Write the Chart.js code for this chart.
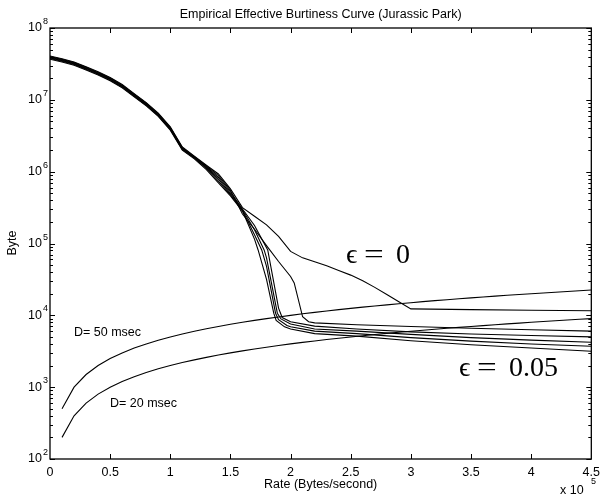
<!DOCTYPE html>
<html>
<head>
<meta charset="utf-8">
<script src="https://cdn.jsdelivr.net/npm/chart.js@4.4.1/dist/chart.umd.min.js"></script>
<style>
html,body{margin:0;padding:0;background:#fff;}
#wrap{width:606px;height:501px;position:relative;}
</style>
</head>
<body>
<div id="wrap"><canvas id="c" width="606" height="501"></canvas></div>
<script>
// ---- data (rate in units of 1e5 bytes/second, burstiness in bytes) ----
const xTickLabels = ['0','0.5','1','1.5','2','2.5','3','3.5','4','4.5'];
const yDecadeExponents = [2,3,4,5,6,7,8];

// head of the six epsilon curves (nearly overlapping)
const headRate = [0,0.1,0.2,0.3,0.4,0.5,0.6,0.7,0.8,0.9,1.0,1.1];
const eps0Head   = [40800000,37350000,33660000,28930000,24620000,20510000,16310000,12200000,9150000,6520000,4210000,2210000];
const eps001Head = [39960000,36570000,32960000,28330000,24100000,20090000,15970000,11950000,8960000,6390000,4120000,2160000];
const eps002Head = [39150000,35820000,32290000,27750000,23610000,19680000,15640000,11700000,8780000,6260000,4040000,2120000];
const eps003Head = [38370000,35110000,31650000,27200000,23140000,19290000,15330000,11470000,8600000,6130000,3960000,2080000];
const eps004Head = [37560000,34360000,30980000,26620000,22650000,18880000,15000000,11230000,8420000,6000000,3870000,2030000];
const eps005Head = [36780000,33650000,30340000,26070000,22180000,18490000,14690000,11000000,8250000,5880000,3790000,1990000];

const eps0Rate  = [1.2,1.3,1.4,1.5,1.6,1.7,1.8,1.9,2.0,2.1,2.2,2.3,2.4,2.5,2.6,2.7,2.8,2.9,3.0,3.5,4.0,4.5];
const eps0Bytes = [1640000,1230000,930000,575000,316000,240000,182000,126000,77600,63100,55600,49000,42200,36300,30200,24500,19500,15500,12300,12000,11750,11600];

const eps001Rate  = [1.2,1.3,1.4,1.5,1.6,1.7,1.8,1.9,2.0,2.03,2.1,2.15,2.2,2.55,3.0,3.5,4.0,4.5];
const eps001Bytes = [1620000,1200000,880000,550000,257000,158000,93300,56200,34700,28200,9550,8130,7850,7410,7000,6610,6310,6030];

const eps002Rate  = [1.2,1.3,1.4,1.5,1.6,1.7,1.81,1.9,1.93,2.0,2.2,2.55,3.0,3.5,4.0,4.5];
const eps002Bytes = [1580000,1170000,830000,525000,302000,178000,81300,12600,9330,8130,7080,6460,5890,5500,5250,5010];

const eps003Rate  = [1.2,1.3,1.4,1.5,1.6,1.7,1.78,1.8,1.89,1.92,2.0,2.2,2.55,3.0,3.5,4.0,4.5];
const eps003Bytes = [1570000,1140000,785000,500000,295000,155000,81300,63100,10700,8910,7590,6460,6030,5430,4900,4520,4220];

const eps004Rate  = [1.2,1.3,1.4,1.5,1.6,1.7,1.76,1.8,1.875,1.9,1.97,2.0,2.2,2.55,3.0,3.5,4.0,4.5];
const eps004Bytes = [1550000,1110000,740000,480000,288000,132000,81300,47900,10700,8710,7240,6920,6030,5560,4900,4370,3980,3720];

const eps005Rate  = [1.2,1.3,1.4,1.5,1.6,1.7,1.73,1.8,1.86,1.88,1.95,2.0,2.2,2.55,3.0,3.5,4.0,4.5];
const eps005Bytes = [1510000,1070000,700000,460000,282000,115000,81300,31600,10700,8510,6920,6460,5560,5130,4420,3890,3510,3160];

// delay-bound lines
const dRate = [0.1,0.2,0.3,0.4,0.5,0.6,0.7,0.8,0.9,1.0,1.1,1.2,1.3,1.4,1.5,1.6,1.7,1.8,1.9,2.0,2.1,2.2,2.3,2.4,2.5,2.6,2.7,2.8,2.9,3.0,3.1,3.2,3.3,3.4,3.5,3.6,3.7,3.8,3.9,4.0,4.1,4.2,4.3,4.4,4.5];
const d50Bytes = [500,1000,1500,2000,2500,3000,3500,4000,4500,5000,5500,6000,6500,7000,7500,8000,8500,9000,9500,10000,10500,11000,11500,12000,12500,13000,13500,14000,14500,15000,15500,16000,16500,17000,17500,18000,18500,19000,19500,20000,20500,21000,21500,22000,22500];
const d20Bytes = [200,400,600,800,1000,1200,1400,1600,1800,2000,2200,2400,2600,2800,3000,3200,3400,3600,3800,4000,4200,4400,4600,4800,5000,5200,5400,5600,5800,6000,6200,6400,6600,6800,7000,7200,7400,7600,7800,8000,8200,8400,8600,8800,9000];

// ---- build ----
function pts(rs, bs){ return rs.map((r,i)=>({x:r, y:bs[i]})); }
function eps(head, rs, bs){ return pts(headRate.concat(rs), head.concat(bs)); }
function ds(label, data){
  return {label, data, borderColor:'#000', borderWidth:1.1, pointRadius:0, fill:false, tension:0};
}
const SANS = "'Liberation Sans', Arial, Helvetica, sans-serif";
const SERIF = "'Liberation Serif', 'DejaVu Serif', serif";
const FS = 12.5;

const overlay = {
  id:'overlay',
  afterDraw(chart){
    const {ctx, chartArea:{left,right,top,bottom}, scales:{x,y}} = chart;
    ctx.save();
    ctx.strokeStyle = '#000'; ctx.fillStyle = '#000';
    ctx.lineWidth = 1;
    // ticks
    ctx.beginPath();
    for (let i=1;i<xTickLabels.length-1;i++){
      const px = Math.round(x.getPixelForValue(parseFloat(xTickLabels[i])))+0.5;
      ctx.moveTo(px,bottom); ctx.lineTo(px,bottom-5);
      ctx.moveTo(px,top); ctx.lineTo(px,top+5);
    }
    for (const e of yDecadeExponents){
      for (let m=1;m<=9;m++){
        const v = m*Math.pow(10,e);
        if (v>1e8) break;
        const py = Math.round(y.getPixelForValue(v))+0.5;
        const len = m===1?5:3;
        ctx.moveTo(left,py); ctx.lineTo(left+len,py);
        ctx.moveTo(right,py); ctx.lineTo(right-len,py);
      }
    }
    ctx.stroke();
    // box
    ctx.lineWidth = 1.3;
    ctx.strokeRect(left, top, right-left, bottom-top);
    // y exponents
    ctx.font = '9px '+SANS;
    ctx.textAlign = 'left'; ctx.textBaseline = 'alphabetic';
    for (const e of yDecadeExponents){
      const py = y.getPixelForValue(Math.pow(10,e));
      ctx.fillText(String(e), 43, py-4);
    }
    // title
    ctx.font = FS+'px '+SANS;
    ctx.textAlign = 'center';
    ctx.fillText('Empirical Effective Burtiness Curve (Jurassic Park)', (left+right)/2, 18);
    // x axis title
    ctx.fillText('Rate (Bytes/second)', (left+right)/2, 488);
    // x 10^5
    ctx.textAlign = 'left';
    ctx.fillText('x 10', 560, 494);
    ctx.font = '9px '+SANS;
    ctx.fillText('5', 591, 484);
    // y axis title
    ctx.save();
    ctx.translate(16, 243);
    ctx.rotate(-Math.PI/2);
    ctx.textAlign = 'center';
    ctx.font = FS+'px '+SANS;
    ctx.fillText('Byte', 0, 0);
    ctx.restore();
    // D labels
    ctx.font = FS+'px '+SANS;
    ctx.textAlign = 'left';
    ctx.fillText('D= 50 msec', 74, 336);
    ctx.fillText('D= 20 msec', 110, 407);
    // epsilon labels
    function epsLabel(x0, base, num){
      ctx.font = '28px '+SERIF;
      ctx.textAlign = 'left';
      ctx.fillText('\u03F5', x0, base);
      ctx.save();
      ctx.translate(x0+18, base);
      ctx.scale(1.25,1);
      ctx.fillText('=', 0, 0);
      ctx.restore();
      ctx.fillText(num, x0+50, base);
    }
    epsLabel(346, 263, '0');
    epsLabel(459, 376, '0.05');
    ctx.restore();
  }
};

new Chart(document.getElementById('c'), {
  type:'line',
  data:{datasets:[
    ds('eps=0', eps(eps0Head, eps0Rate, eps0Bytes)),
    ds('eps=0.01', eps(eps001Head, eps001Rate, eps001Bytes)),
    ds('eps=0.02', eps(eps002Head, eps002Rate, eps002Bytes)),
    ds('eps=0.03', eps(eps003Head, eps003Rate, eps003Bytes)),
    ds('eps=0.04', eps(eps004Head, eps004Rate, eps004Bytes)),
    ds('eps=0.05', eps(eps005Head, eps005Rate, eps005Bytes)),
    ds('D=50 msec', pts(dRate, d50Bytes)),
    ds('D=20 msec', pts(dRate, d20Bytes))
  ]},
  options:{
    responsive:false, animation:false, devicePixelRatio:1,
    layout:{padding:{top:28,right:10,left:0,bottom:0}},
    plugins:{legend:{display:false}, tooltip:{enabled:false}, title:{display:false}},
    scales:{
      x:{type:'linear', min:0, max:4.5,
        afterFit(s){ s.height = 42; },
        afterBuildTicks(s){ s.ticks = xTickLabels.map(t=>({value:parseFloat(t)})); },
        grid:{display:false, drawTicks:false},
        border:{display:false},
        ticks:{padding:6, color:'#000', font:{family:SANS, size:FS}, maxRotation:0, autoSkip:false,
          callback:(v)=>{ const i = xTickLabels.findIndex(t=>parseFloat(t)===v); return i>=0?xTickLabels[i]:''; }}
      },
      y:{type:'logarithmic', min:100, max:1e8,
        afterFit(s){ s.width = 50; },
        afterBuildTicks(s){ s.ticks = yDecadeExponents.map(e=>({value:Math.pow(10,e)})); },
        grid:{display:false, drawTicks:false},
        border:{display:false},
        ticks:{padding:8, color:'#000', font:{family:SANS, size:FS}, autoSkip:false,
          callback:()=> '10'}
      }
    }
  },
  plugins:[overlay]
});
</script>
</body>
</html>
